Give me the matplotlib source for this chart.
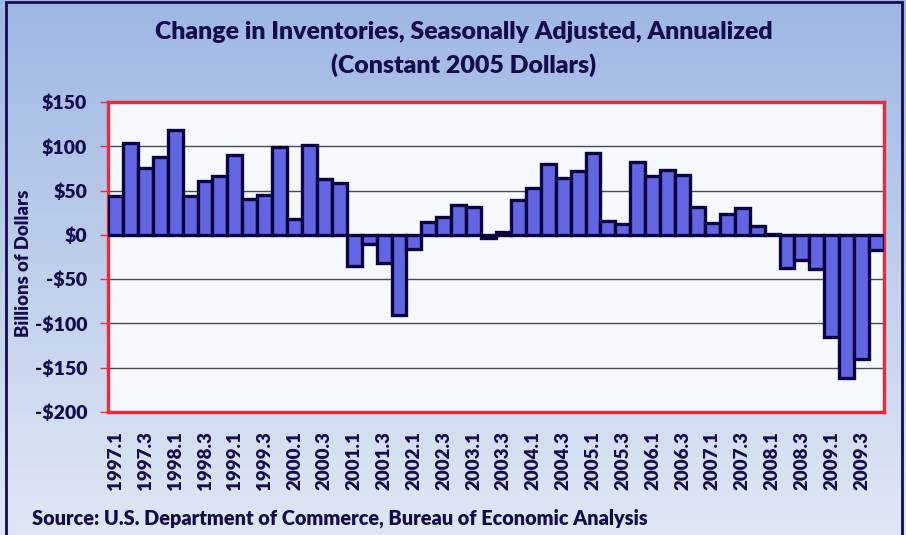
import numpy as np
import matplotlib
matplotlib.use('Agg')
import matplotlib.pyplot as plt
from matplotlib.patches import Rectangle

# quarterly change in inventories, billions of 2005 dollars
quarters = [f'{y}.{q}' for y in range(1997, 2010) for q in range(1, 5)]
values = [44, 104, 76, 88, 118, 44, 61, 66, 90, 41, 45, 99, 18, 101, 63, 58,
          -35, -10, -32, -91, -16, 14, 20, 34, 32, -4, 3, 39, 53, 80, 64, 72,
          92, 16, 12, 82, 66, 73, 68, 32, 13, 24, 30, 10, 1, -37, -28, -38,
          -115, -162, -140, -17]
yticks = [150, 100, 50, 0, -50, -100, -150, -200]
ytick_labels = ['$150', '$100', '$50', '$0', '-$50', '-$100', '-$150', '-$200']

navy = '#150c4e'
wt = 'heavy'
plt.rcParams['font.family'] = ['Lato', 'DejaVu Sans']

fig = plt.figure(figsize=(9.06, 5.35), dpi=100)

# gradient background over whole figure
bg = fig.add_axes([0, 0, 1, 1], zorder=0)
top = np.array([158, 183, 228]) / 255
bot = np.array([223, 231, 244]) / 255
t = np.linspace(0, 1, 256)[:, None]
grad = (top * (1 - t) + bot * t)[:, None, :]
bg.imshow(grad, aspect='auto', extent=[0, 1, 0, 1])
bg.axis('off')
fig.patches.append(Rectangle((6 / 906, -0.01), 896 / 906, 1.0 - 2 / 535 + 0.01,
                             transform=fig.transFigure, fill=False,
                             edgecolor=navy, linewidth=2, zorder=1))

ax = fig.add_axes([108 / 906, 123 / 535, 776 / 906, 310 / 535], zorder=2)
ax.set_facecolor('#f5f8fc')
x = np.arange(len(values))
ax.bar(x, values, width=1.0, color='#6366e3', edgecolor='#0c0440',
       linewidth=2.4, zorder=3)
ax.set_xlim(-0.5, len(values) - 0.5)
ax.set_ylim(-200, 150)
ax.set_yticks(yticks)
ax.set_yticklabels(ytick_labels, fontsize=14, color=navy, fontweight=wt)
ax.yaxis.grid(True, color='#4a4a55', linewidth=1, zorder=1)
ax.set_axisbelow(True)
ax.tick_params(axis='y', colors='#ee2a3a', length=6, width=1, pad=9,
               labelcolor=navy)
ax.set_xticks(x[::2])
ax.set_xticklabels(quarters[::2], rotation=90, fontsize=13.5, color=navy,
                   fontweight=wt)
ax.tick_params(axis='x', length=0, pad=14)
for s in ax.spines.values():
    s.set_color('#ee2a3a')
    s.set_linewidth(2.4)
ax.set_ylabel('Billions of Dollars', fontsize=13.3, color=navy, fontweight=wt)
ax.yaxis.set_label_coords(-76 / 776, 0.48)

fig.text(464 / 906, 1 - 32 / 535, 'Change in Inventories, Seasonally Adjusted, Annualized',
         ha='center', va='center', fontsize=17.9, color=navy, fontweight=wt)
fig.text(464 / 906, 1 - 65 / 535, '(Constant 2005 Dollars)',
         ha='center', va='center', fontsize=17.9, color=navy, fontweight=wt)
fig.text(32 / 906, 1 - 518 / 535,
         'Source: U.S. Department of Commerce, Bureau of Economic Analysis',
         ha='left', va='center', fontsize=14.3, color=navy, fontweight=wt)

fig.savefig('out.png', dpi=100)
